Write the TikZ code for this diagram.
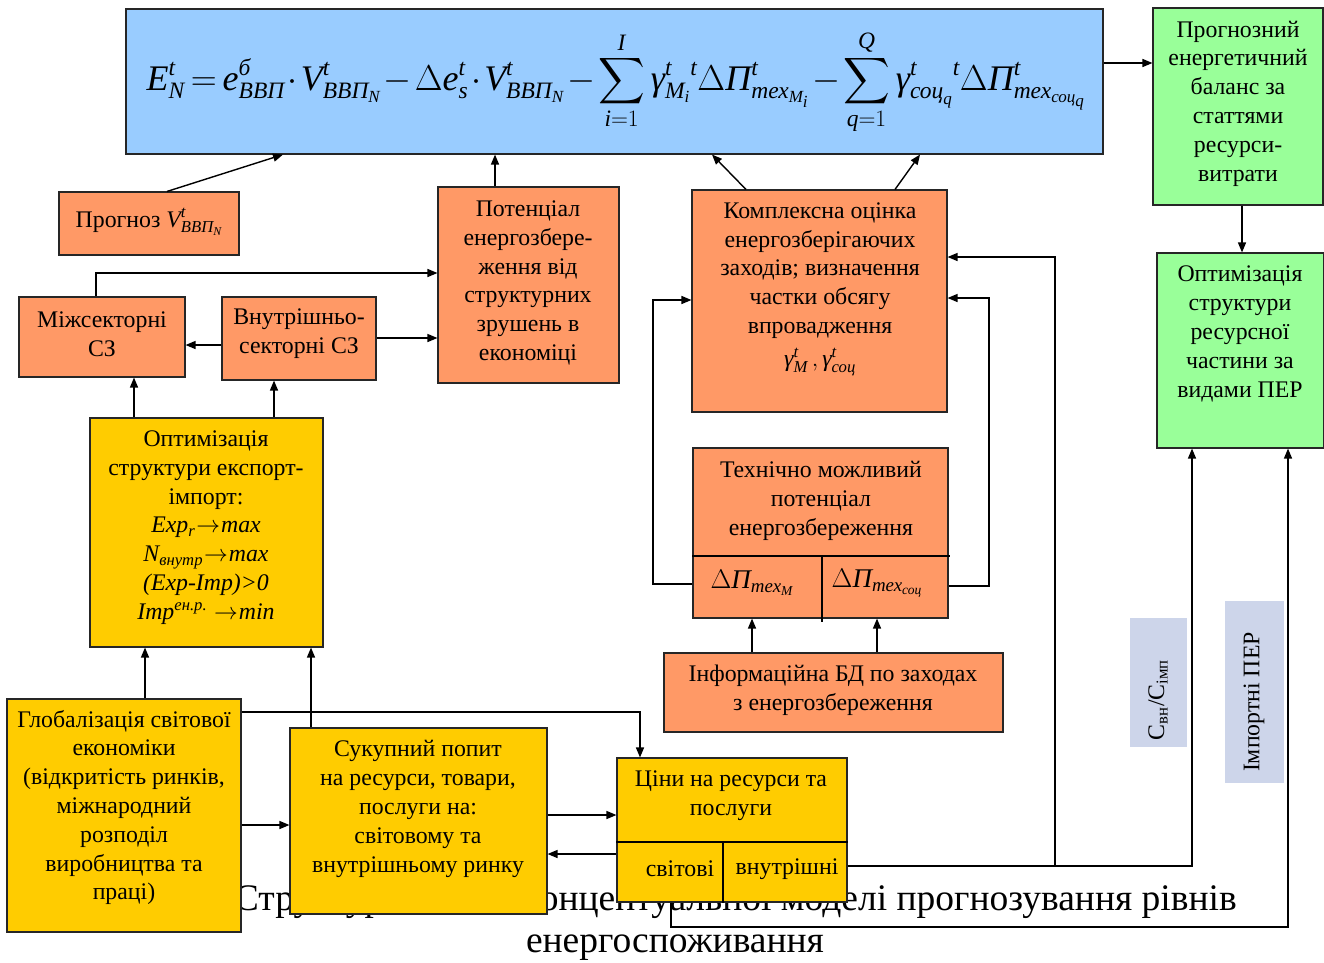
\RequirePackage{fix-cm}
\documentclass[tikz,border=0pt]{standalone}
\usepackage{amsmath}
\usepackage{fontspec}
\setmainfont{Liberation Serif}
\usetikzlibrary{arrows.meta}
\DeclareMathSizes{36}{36}{23.5}{17}
\definecolor{blueF}{HTML}{99CCFF}
\definecolor{greenF}{HTML}{99FF99}
\definecolor{orangeF}{HTML}{FF9966}
\definecolor{yellowF}{HTML}{FFCC00}
\definecolor{labF}{HTML}{CDD5EA}
\newcommand{\ti}[1]{\text{\itshape #1}}
\newcommand{\bigsum}{\mathop{\vcenter{\hbox{\scalebox{1.3}{$\displaystyle\sum$}}}}\limits}
\newcommand{\ar}{\kern1pt$\rightarrow$\kern1pt}
\tikzset{
  box/.style={draw=black!85, line width=1.1pt, inner sep=0pt, rectangle},
  arr/.style={-{Triangle[length=10pt,width=8pt]}, line width=1.4pt},
  txt/.style={align=center, inner sep=0pt, font=\fontsize{23.8}{28.8}\selectfont},
}
\begin{document}
\begin{tikzpicture}[x=1pt,y=-1pt]
\useasboundingbox (0,0) rectangle (1324,962);
% caption (behind boxes)
\node[inner sep=0pt, anchor=base east, font=\fontsize{37.5}{42}\selectfont] (cap1) at (1237,910) {Структура\hspace{114pt} концептуальної моделі прогнозування рівнів};
\node[inner sep=0pt, anchor=base, font=\fontsize{37.5}{42}\selectfont] (cap2) at (675,952) {енергоспоживання};
% boxes
\node[box, fill=blueF, minimum width=977pt, minimum height=145pt] (form) at (614.5,81.5) {};
\node[box, fill=greenF, minimum width=170pt, minimum height=197pt] (g1) at (1238,106.5) {};
\node[box, fill=greenF, minimum width=167pt, minimum height=195pt] (g2) at (1240.5,350.5) {};
\node[box, fill=orangeF, minimum width=180pt, minimum height=63pt] (prog) at (149,223.5) {};
\node[box, fill=orangeF, minimum width=181pt, minimum height=196pt] (pot) at (528.5,285) {};
\node[box, fill=orangeF, minimum width=166pt, minimum height=80pt] (mizh) at (102,337) {};
\node[box, fill=orangeF, minimum width=154pt, minimum height=83pt] (vnut) at (299,338.5) {};
\node[box, fill=orangeF, minimum width=255pt, minimum height=222pt] (kom) at (819.5,301) {};
\node[box, fill=orangeF, minimum width=255pt, minimum height=170pt] (tech) at (820.5,533) {};
\node[box, fill=orangeF, minimum width=339pt, minimum height=79pt] (info) at (833.5,692.5) {};
\node[box, fill=yellowF, minimum width=233pt, minimum height=229pt] (opt) at (206.5,532.5) {};
\node[box, fill=yellowF, minimum width=234pt, minimum height=233pt] (glob) at (124,815.5) {};
\node[box, fill=yellowF, minimum width=257pt, minimum height=186pt] (suk) at (418.5,821) {};
\node[box, fill=yellowF, minimum width=230pt, minimum height=144pt] (cin) at (732,830) {};
\node[fill=labF, inner sep=0pt, minimum width=57pt, minimum height=129pt] (l1) at (1158.5,682.5) {};
\node[fill=labF, inner sep=0pt, minimum width=59pt, minimum height=182pt] (l2) at (1254.5,692) {};
% dividers
\draw[line width=1.1pt] (tech.west |- 0,556) -- (950,556);
\draw[line width=1.1pt] (822,556) -- (822,622);
\draw[line width=1.1pt] (cin.west |- 0,842) -- (cin.east |- 0,842);
\draw[line width=1.1pt] (723,842) -- (cin.south -| 723,0);
% texts
\node[inner sep=0pt, anchor=base, font=\fontsize{36}{40}\selectfont] (ftx) at (616,90) {\thickmuskip=3mu\medmuskip=1.5mu$\displaystyle
 \ti{E}^{\ti{t}}_{\ti{N}} = \ti{e}^{\ti{б}}_{\ti{ВВП}}\cdot \ti{V}^{\ti{t}}_{\ti{ВВП}_{\ti{N}}} - \Delta \ti{e}^{\ti{t}}_{\ti{s}}\cdot \ti{V}^{\ti{t}}_{\ti{ВВП}_{\ti{N}}} - \bigsum_{\ti{i}=1}^{\ti{I}} \ti{γ}^{\ti{t}}_{\ti{M}_{\ti{i}}}{}^{\ti{t}}\Delta\ti{П}^{\ti{t}}_{\ti{тех}_{\ti{M}_{\ti{i}}}} - \bigsum_{\ti{q}=1}^{\ti{Q}} \ti{γ}^{\ti{t}}_{\ti{соц}_{\ti{q}}}{}^{\ti{t}}\Delta\ti{П}^{\ti{t}}_{\ti{тех}_{\ti{соц}_{\ti{q}}}}$};
\node[txt] (tg1) at (1238,103.5) {Прогнозний\\енергетичний\\баланс за\\статтями\\ресурси-\\витрати};
\node[txt] (tg2) at (1240,334) {Оптимізація\\структури\\ресурсної\\частини за\\видами ПЕР};
\node[txt] (tprog) at (149,222) {Прогноз $\ti{V}^{\ti{t}}_{\ti{ВВП}_{\ti{N}}}$};
\node[txt] (tpot) at (528,283) {Потенціал\\енергозбере-\\ження від\\структурних\\зрушень в\\економіці};
\node[txt] (tmizh) at (102,334) {Міжсекторні\\СЗ};
\node[txt] (tvnut) at (299,334) {Внутрішньо-\\секторні СЗ};
\node[txt] (tkom) at (820,270.5) {Комплексна оцінка\\енергозберігаючих\\заходів; визначення\\частки обсягу\\впровадження};
\node[txt] (tgam) at (820,362) {$\ti{γ}^{\ti{t}}_{\ti{M}}\,, \ti{γ}^{\ti{t}}_{\ti{соц}}$};
\node[txt] (ttech) at (821,501) {Технічно можливий\\потенціал\\енергозбереження};
\node[inner sep=0pt, font=\fontsize{27}{30}\selectfont] (dpm) at (752,583) {$\Delta\ti{П}_{\ti{тех}_{\ti{M}}}$};
\node[inner sep=0pt, font=\fontsize{27}{30}\selectfont] (dps) at (877,583) {$\Delta\ti{П}_{\ti{тех}_{\ti{соц}}}$};
\node[txt] (tinfo) at (833,690) {Інформаційна БД по заходах\\з енергозбереження};
\node[txt] (topt) at (206,527.5) {Оптимізація\\структури експорт-\\імпорт:\\{\itshape Exp\textsubscript{r}\ar max}\\{\itshape N\textsubscript{внутр}\ar max}\\{\itshape (Exp-Imp)>0}\\{\itshape Imp\textsuperscript{ен.р.} \ar min}};
\node[txt] (tglob) at (124,807.5) {Глобалізація світової\\економіки\\(відкритість ринків,\\міжнародний\\розподіл\\виробництва та\\праці)};
\node[txt] (tsuk) at (418,809) {Сукупний попит\\на ресурси, товари,\\послуги на:\\світовому та\\внутрішньому ринку};
\node[txt] (tcin) at (731,796) {Ціни на ресурси та\\послуги};
\node[txt] (tsv) at (680,869) {світові};
\node[txt] (tvn) at (787,869) {внутрішні};
\node[txt, rotate=90] (tl1) at (1158,700) {С\textsubscript{вн}/С\textsubscript{імп}};
\node[txt, rotate=90] (tl2) at (1254,702) {Імпортні ПЕР};
% connectors
\draw[arr] (form.east |- 0,63) -- (g1.west |- 0,63);
\draw[arr] (g1.south -| 1242,0) -- (g2.north -| 1242,0);
\draw[arr] (prog.north -| 167,0) -- (form.south -| 283,0);
\draw[arr] (pot.north -| 495,0) -- (form.south -| 495,0);
\draw[arr] (kom.north -| 746,0) -- (form.south -| 712,0);
\draw[arr] (kom.north -| 895,0) -- (form.south -| 920,0);
\draw[arr] (mizh.north -| 96,0) |- (pot.west |- 0,273);
\draw[arr] (vnut.east |- 0,338) -- (pot.west |- 0,338);
\draw[arr] (vnut.west |- 0,345) -- (mizh.east |- 0,345);
\draw[arr] (opt.north -| 134,0) -- (mizh.south -| 134,0);
\draw[arr] (opt.north -| 274,0) -- (vnut.south -| 274,0);
\draw[arr] (glob.north -| 145,0) -- (opt.south -| 145,0);
\draw[arr] (suk.north -| 311,0) -- (opt.south -| 311,0);
\draw[arr] (glob.east |- 0,712) -| (cin.north -| 640,0);
\draw[arr] (glob.east |- 0,825) -- (suk.west |- 0,825);
\draw[arr] (suk.east |- 0,815) -- (cin.west |- 0,815);
\draw[arr] (cin.west |- 0,854) -- (suk.east |- 0,854);
\draw[arr] (tech.west |- 0,584) -- (653,584) |- (kom.west |- 0,300);
\draw[arr] (tech.east |- 0,586) -- (989,586) |- (kom.east |- 0,298);
\coordinate (j1) at (1055,866);
\draw[arr] (cin.east |- 0,866) -| (g2.south -| 1192,0);
\draw[arr] (j1) |- (kom.east |- 0,257);
\draw[arr] (cin.south -| 671,0) -- (671,927) -| (g2.south -| 1288,0);
\draw[arr] (info.north -| 752,0) -- (tech.south -| 752,0);
\draw[arr] (info.north -| 877,0) -- (tech.south -| 877,0);
\end{tikzpicture}
\end{document}
